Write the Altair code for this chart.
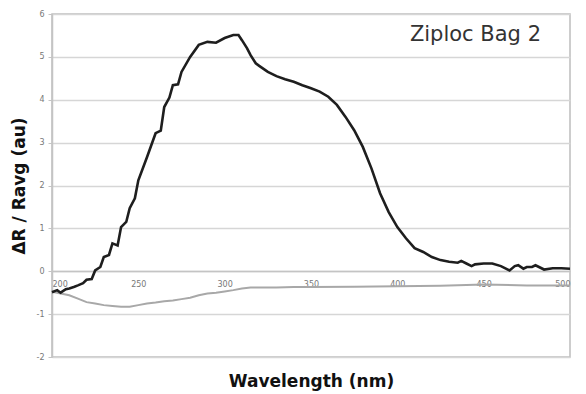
import altair as alt
import pandas as pd

# Reflectance-difference spectrum of the bag sample (black trace)
wl_main = [200, 203, 205, 208, 210, 213, 215, 218, 220, 223, 225, 228, 230, 233,
           235, 238, 240, 243, 245, 248, 250, 255, 260, 263, 265, 268, 270, 273,
           275, 280, 285, 290, 295, 300, 305, 308, 310, 313, 315, 318, 320,
           325, 330, 335, 340, 345, 350, 355, 360, 365, 370, 375, 380, 385, 390,
           395, 400, 405, 410, 415, 420, 425, 430, 435, 437, 440, 443, 445, 450,
           455, 460, 465, 468, 470, 473, 475, 478, 480, 485, 490, 495, 500]
dr_main = [-0.49, -0.44, -0.50, -0.42, -0.40, -0.36, -0.33, -0.28, -0.20, -0.18,
           0.02, 0.10, 0.33, 0.38, 0.65, 0.60, 1.03, 1.15, 1.47, 1.70, 2.12, 2.66,
           3.22, 3.28, 3.83, 4.05, 4.34, 4.36, 4.65, 5.00, 5.28, 5.35, 5.33, 5.44,
           5.51, 5.51, 5.39, 5.20, 5.04, 4.85, 4.79, 4.65, 4.55, 4.48, 4.42, 4.34,
           4.27, 4.19, 4.07, 3.88, 3.60, 3.29, 2.90, 2.40, 1.82, 1.38, 1.03, 0.77,
           0.54, 0.45, 0.33, 0.26, 0.22, 0.20, 0.24, 0.18, 0.12, 0.16, 0.18, 0.18,
           0.12, 0.02, 0.12, 0.14, 0.06, 0.10, 0.10, 0.14, 0.04, 0.07, 0.07, 0.06]

# Reference trace (gray)
wl_ref = [200, 205, 210, 215, 220, 225, 230, 235, 240, 245, 250, 255, 260, 265,
          270, 275, 280, 285, 290, 295, 300, 305, 310, 315, 320, 330, 340, 350,
          375, 400, 425, 450, 475, 500]
dr_ref = [-0.48, -0.52, -0.56, -0.64, -0.72, -0.75, -0.79, -0.81, -0.83, -0.83,
          -0.79, -0.75, -0.73, -0.70, -0.68, -0.65, -0.62, -0.56, -0.52, -0.50,
          -0.47, -0.44, -0.40, -0.38, -0.38, -0.38, -0.37, -0.37, -0.36, -0.35,
          -0.34, -0.31, -0.33, -0.33]

x_ticks = [200, 250, 300, 350, 400, 450, 500]
y_ticks = [-2, -1, 0, 1, 2, 3, 4, 5, 6]

main_df = pd.DataFrame({"wl": wl_main, "dr": dr_main})
ref_df = pd.DataFrame({"wl": wl_ref, "dr": dr_ref})

W, H = 518, 343
FONT = "DejaVu Sans"

x_enc = alt.X(
    "wl:Q",
    scale=alt.Scale(domain=[200, 500], nice=False, zero=False),
    axis=alt.Axis(
        values=x_ticks,
        title="Wavelength (nm)",
        titleFont=FONT, titleFontSize=17, titleFontWeight="bold", titleColor="#111",
        titleY=115, titleBaseline="alphabetic",
        labelFont=FONT, labelFontSize=8, labelColor="#777", labelPadding=9,
        offset=-86, grid=False, ticks=False,
        domainColor="#c4c4c4", domainWidth=1.5,
    ),
)
y_enc = alt.Y(
    "dr:Q",
    scale=alt.Scale(domain=[-2, 6], nice=False, zero=False),
    axis=alt.Axis(
        values=y_ticks,
        labelExpr="toString(datum.value)",
        title="ΔR / Ravg (au)",
        titleFont=FONT, titleFontSize=17, titleFontWeight="bold", titleColor="#111",
        titlePadding=8,
        labelFont=FONT, labelFontSize=8, labelColor="#777", labelPadding=4,
        tickSize=4, tickColor="#c4c4c4",
        grid=True, gridColor="#d6d6d6", gridWidth=1.5,
        domainColor="#c4c4c4", domainWidth=1.5,
    ),
)

ref_line = alt.Chart(ref_df).mark_line(color="#a8a8a8", strokeWidth=2).encode(
    x=x_enc, y=y_enc
)
main_line = alt.Chart(main_df).mark_line(color="#1e1e1e", strokeWidth=2.6).encode(
    x="wl:Q", y="dr:Q"
)
label = alt.Chart(pd.DataFrame({"t": ["Ziploc Bag 2"]})).mark_text(
    font=FONT, fontSize=21, color="#333", align="right", baseline="alphabetic"
).encode(x=alt.value(489), y=alt.value(27), text="t:N")

chart = (
    alt.layer(ref_line, main_line, label)
    .properties(
        width=W, height=H,
        autosize=alt.AutoSizeParams(type="none"),
        padding={"left": 52, "top": 14, "right": 16, "bottom": 37},
        background="white",
    )
    .configure_view(stroke="#bdbdbd", strokeWidth=1.5)
)

chart.save("out.html", embed_options={"renderer": "svg", "actions": False})
